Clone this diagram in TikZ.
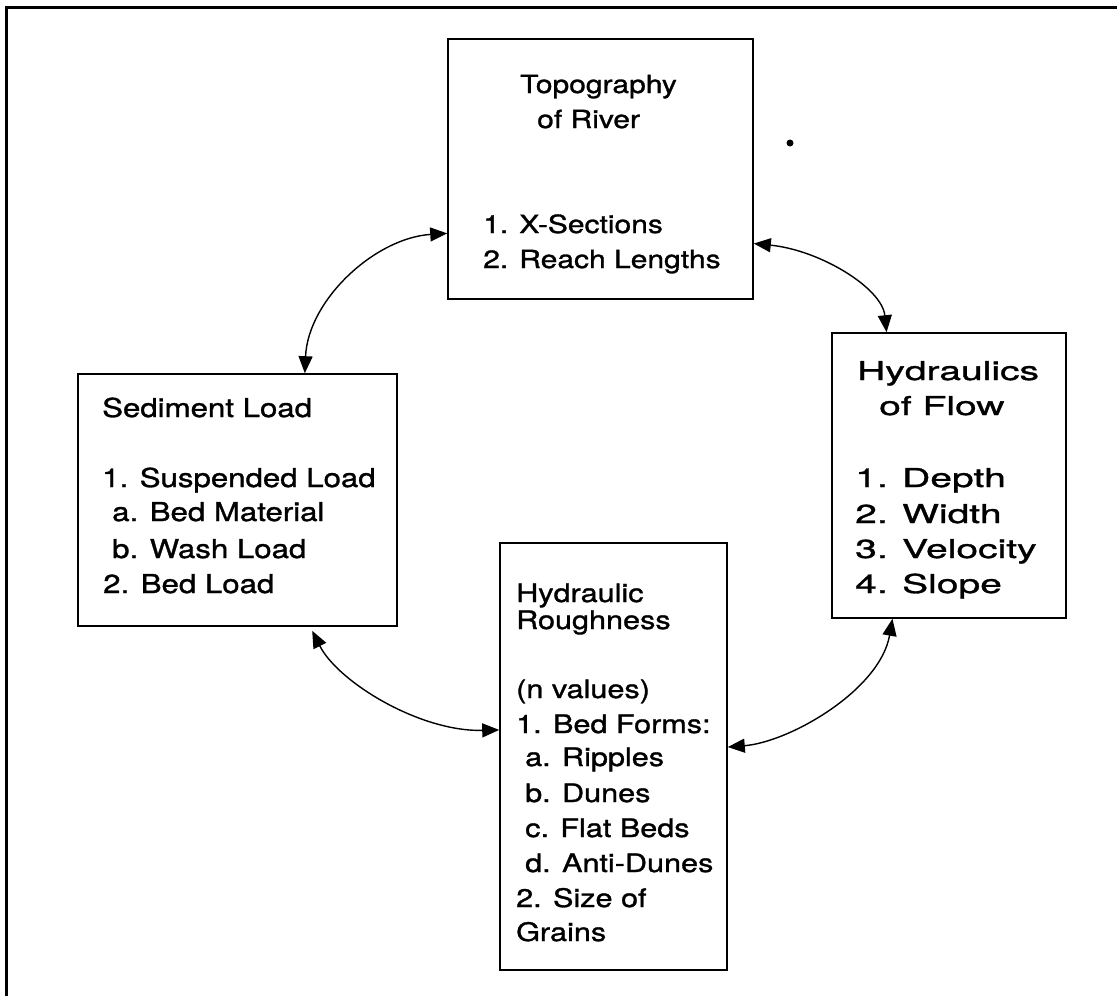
\documentclass[tikz,border=0pt]{standalone}
\usepackage{fontspec}
\setmainfont{TeX Gyre Heros}
\newfontfamily\txtfont[FakeStretch=1.2,FakeBold=1.2]{TeX Gyre Heros}
\newfontfamily\widefont[FakeStretch=1.5,FakeBold=1.2]{TeX Gyre Heros}
\usetikzlibrary{arrows.meta,calc}
\begin{document}
\begin{tikzpicture}[x=1pt,y=-1pt,
  box/.style={draw, line width=1.6pt, inner sep=0pt},
  lbl/.style={anchor=base west, inner sep=0pt, font=\txtfont\fontsize{25}{30}\selectfont},
  slbl/.style={anchor=base west, inner sep=0pt, font=\txtfont\fontsize{26}{30}\selectfont},
  rlbl/.style={anchor=base west, inner sep=0pt, font=\txtfont\fontsize{25.5}{30}\selectfont},
  wlbl/.style={anchor=base west, inner sep=0pt, font=\widefont\fontsize{26}{30}\selectfont},
  arr/.style={line width=1.4pt, {Triangle[length=17pt,width=14pt]}-{Triangle[length=17pt,width=14pt]}}
]
\useasboundingbox (0,0) rectangle (1117,996);
% frame
\draw[line width=3pt] (6,996) -- (6,7) -- (1117,7);
% small dot
\fill (790,143) circle (3.5pt);

% boxes
\node[box, minimum width=305pt, minimum height=260pt] (top) at (600.5,169) {};
\node[box, minimum width=319pt, minimum height=252pt] (sed) at (237.5,500) {};
\node[box, minimum width=234pt, minimum height=285pt] (hyd) at (949,475.5) {};
\node[box, minimum width=227pt, minimum height=427pt] (rough) at (613.5,756.5) {};

% top box text
\node[lbl] (t1) at (520,93) {Topography};
\node[lbl] (t2) at (537,128) {of River};
\node[lbl] (t3) at (483,233) {1. X-Sections};
\node[lbl] (t4) at (483,268) {2. Reach Lengths};

% sediment text
\node[slbl] (s1) at (102,417) {Sediment Load};
\node[slbl] (s2) at (102,487) {1. Suspended Load};
\node[slbl] (s3) at (112,521) {a. Bed Material};
\node[slbl] (s4) at (112,558) {b. Wash Load};
\node[slbl] (s5) at (103,593) {2. Bed Load};

% hydraulics text
\node[wlbl] (h1) at (857,380) {Hydraulics};
\node[wlbl] (h2) at (879,415) {of Flow};
\node[wlbl] (h3) at (855,487) {1. Depth};
\node[wlbl] (h4) at (855,523) {2. Width};
\node[wlbl] (h5) at (855,558) {3. Velocity};
\node[wlbl] (h6) at (855,593) {4. Slope};

% roughness text
\node[rlbl] (r1) at (516,602) {Hydraulic};
\node[rlbl] (r2) at (516,629) {Roughness};
\node[rlbl] (r3) at (516,698) {(n values)};
\node[rlbl] (r4) at (516,733) {1. Bed Forms:};
\node[rlbl] (r5) at (525,766) {a. Ripples};
\node[rlbl] (r6) at (525,802) {b. Dunes};
\node[rlbl] (r7) at (525,837) {c. Flat Beds};
\node[rlbl] (r8) at (525,872) {d. Anti-Dunes};
\node[rlbl] (r9) at (516,907) {2. Size of};
\node[rlbl] (r10) at (516,941) {Grains};

% connectors
\draw[arr] ($(sed.north west)!0.71!(sed.north east)$)
  .. controls (308,300) and (375,238) ..
  ($(top.north west)!0.746!(top.south west)$);
\draw[arr] ($(top.north east)!0.785!(top.south east)$)
  .. controls (820,250) and (882,288) ..
  ($(hyd.north west)!0.235!(hyd.north east)$);
\draw[arr] ($(hyd.south west)!0.26!(hyd.south east)$)
  .. controls (880,690) and (790,742) ..
  ($(rough.north east)!0.478!(rough.south east)$);
\draw[arr] ($(sed.south west)!0.733!(sed.south east)+(0,4)$)
  .. controls (338,682) and (420,732) ..
  ($(rough.north west)!0.438!(rough.south west)$);
\end{tikzpicture}
\end{document}
